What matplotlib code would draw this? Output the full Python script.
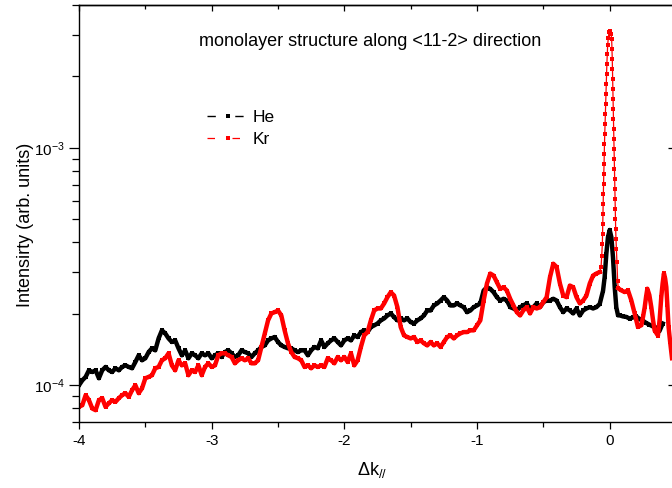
import numpy as np
import matplotlib.pyplot as plt
from matplotlib.lines import Line2D
from matplotlib.ticker import LogLocator, NullFormatter, MultipleLocator

plt.rcParams["font.family"] = ["Liberation Sans", "DejaVu Sans"]
plt.rcParams["axes.unicode_minus"] = False
plt.rcParams["mathtext.default"] = "regular"

# intensity in units of 1e-4, read every 0.025 in dk starting at -4
k_step = 0.025
he_left = [
    1.000, 1.049, 1.084, 1.156, 1.137, 1.156, 1.070, 1.156, 1.194, 1.156,
    1.137, 1.179, 1.156, 1.194, 1.213, 1.194, 1.179, 1.253, 1.337, 1.274,
    1.299, 1.380, 1.431, 1.403, 1.575, 1.703, 1.654, 1.575, 1.521, 1.545,
    1.431, 1.337, 1.403, 1.299, 1.363, 1.337, 1.299, 1.363, 1.337, 1.363,
    1.299, 1.337, 1.363, 1.315,
    1.380, 1.403, 1.363, 1.315, 1.337, 1.403, 1.380, 1.363, 1.315, 1.363,
    1.403, 1.449, 1.472, 1.545, 1.575, 1.596, 1.521, 1.472, 1.449, 1.431,
    1.431, 1.403, 1.380, 1.403, 1.403, 1.337, 1.403, 1.449, 1.431, 1.545,
    1.449, 1.502, 1.545, 1.575, 1.521, 1.472, 1.545, 1.575, 1.545, 1.622,
    1.596, 1.675, 1.703, 1.675, 1.758,
    1.787, 1.820, 1.876, 1.912, 1.968, 2.007, 1.936, 1.876, 1.912, 1.876,
    1.912, 1.845, 1.820, 1.876, 1.912, 1.968, 2.065, 2.065, 2.168, 2.211,
    2.275, 2.350, 2.275, 2.168, 2.168, 2.211, 2.168, 2.133, 2.032, 2.065,
    2.133, 2.168, 2.211, 2.506, 2.588, 2.547, 2.466, 2.350, 2.275, 2.313,
    2.275, 2.133, 2.106, 2.065, 2.133,
    2.170, 2.211, 2.106, 2.133, 2.211, 2.133, 2.239, 2.275, 2.275, 2.313,
    2.275, 2.133, 2.032, 2.106, 2.065, 2.007, 2.106, 1.968, 2.065, 2.106,
    2.133, 2.106, 2.133, 2.200,
]
kr_left = [
    0.811, 0.824, 0.908, 0.865, 0.798, 0.785, 0.865, 0.882, 0.811, 0.840,
    0.865, 0.851, 0.882, 0.908, 0.926, 0.893, 0.953, 1.000, 0.926, 0.971,
    1.070, 1.084, 1.102, 1.179, 1.194, 1.274, 1.299, 1.363, 1.213, 1.156,
    1.274, 1.213, 1.237, 1.102, 1.156, 1.137, 1.213, 1.102, 1.194, 1.237,
    1.194, 1.213, 1.337, 1.363,
    1.363, 1.337, 1.315, 1.237, 1.274, 1.299, 1.274, 1.299, 1.237, 1.237,
    1.274, 1.449, 1.654, 1.876, 2.007, 2.032, 2.065, 1.968, 1.703, 1.502,
    1.380, 1.315, 1.299, 1.274, 1.194, 1.213, 1.179, 1.213, 1.194, 1.213,
    1.194, 1.299, 1.274, 1.237, 1.315, 1.274, 1.315, 1.253, 1.363, 1.213,
    1.274, 1.449, 1.622, 1.675, 1.876,
    2.065, 2.106, 2.106, 2.211, 2.350, 2.466, 2.388, 2.133, 1.758, 1.622,
    1.596, 1.575, 1.596, 1.521, 1.545, 1.502, 1.472, 1.521, 1.472, 1.502,
    1.449, 1.521, 1.596, 1.622, 1.575, 1.622, 1.654, 1.675, 1.675, 1.703,
    1.703, 1.787, 1.876, 2.275, 2.683, 2.955, 2.898, 2.716, 2.547, 2.588,
    2.506, 2.313, 2.168, 2.032, 1.968,
    2.070, 2.133, 2.007, 2.133, 2.106, 2.133, 2.239, 2.350, 2.851, 3.250,
    3.150, 2.683, 2.388, 2.350, 2.630, 2.588, 2.350, 2.211, 2.275, 2.388,
    2.683, 2.898, 2.955, 3.000,
]

# He: specular peak and the part right of it
he_tail_k = [-0.05, -0.038, -0.025, -0.013, 0.0, 0.013, 0.025, 0.038, 0.05, 0.063,
             0.075, 0.1, 0.125, 0.15, 0.175, 0.2, 0.225, 0.25, 0.275, 0.3,
             0.325, 0.35, 0.375, 0.4]
he_tail_i = [2.50, 2.85, 3.58, 4.20, 4.51, 4.20, 3.46, 2.59, 2.13, 1.97,
             1.97, 1.95, 1.94, 1.91, 1.93, 1.95, 1.90, 1.87, 1.83, 1.80,
             1.77, 1.75, 1.69, 1.82]

# Kr: specular peak
kr_peak_k = [-0.065, -0.06, -0.055, -0.0535, -0.052, -0.0505, -0.049, -0.0475,
             -0.046, -0.0444, -0.0422, -0.0407, -0.0392, -0.037, -0.0347, -0.0324,
             -0.0301, -0.0279, -0.0256, -0.0233, -0.0211, -0.0181, -0.0151, -0.0105,
             -0.0053, 0.0, 0.0053, 0.0105, 0.0151, 0.0173, 0.0196, 0.0211,
             0.0226, 0.0241, 0.0256, 0.0271, 0.0286, 0.0301, 0.0316, 0.0331,
             0.0347, 0.0362, 0.0377, 0.0392, 0.0407, 0.0422, 0.0437, 0.0452,
             0.0475, 0.0505, 0.055, 0.06]
kr_peak_i = [3.14, 3.50, 3.95, 4.35, 4.79, 5.28, 5.82, 6.41,
             7.06, 7.78, 8.57, 9.44, 10.39, 11.45, 12.61, 13.90,
             15.30, 16.86, 18.57, 20.46, 22.54, 24.83, 27.09, 29.00,
             30.72, 31.23, 31.02, 30.13, 28.71, 26.06, 23.65, 21.47,
             19.49, 17.69, 16.06, 14.58, 13.24, 12.02, 10.91, 9.90,
             8.99, 8.16, 7.41, 6.73, 6.11, 5.54, 5.03, 4.57,
             4.15, 3.76, 3.29, 2.75]

# Kr: right of the peak
kr_right_k = [0.065, 0.088, 0.113, 0.138, 0.163, 0.188, 0.213, 0.239, 0.252, 0.264,
              0.274, 0.284, 0.299, 0.314, 0.327, 0.339, 0.364, 0.377, 0.389, 0.399,
              0.409, 0.418, 0.427, 0.435, 0.444, 0.456, 0.47]
kr_right_i = [2.56, 2.51, 2.47, 2.51, 2.28, 2.01, 1.76, 1.79, 1.95, 2.13,
              2.35, 2.55, 2.40, 2.13, 1.88, 1.70, 1.62, 1.90, 2.35, 2.68,
              2.96, 2.82, 2.59, 2.17, 1.76, 1.52, 1.30]

unit = 1e-4
k_left = -4 + k_step * np.arange(len(he_left))

fig = plt.figure(figsize=(6.72, 4.88), dpi=100)
ax = fig.add_axes([79 / 672, 66 / 488, 597 / 672, 417 / 488])

thick = dict(lw=3.2, marker="s", ms=3.0, mew=0, solid_joinstyle="round")

# He
he_k = np.concatenate([k_left, he_tail_k])
he_i = np.concatenate([he_left, he_tail_i]) * unit
ax.plot(he_k, he_i, color="black", **thick)

# Kr
ax.plot(k_left, np.array(kr_left) * unit, color="red", **thick)
pk = [k_left[-1]] + kr_peak_k + [kr_right_k[0]]
pi = [kr_left[-1]] + kr_peak_i + [kr_right_i[0]]
ax.plot(pk, np.array(pi) * unit, color="red", lw=0.9, marker="s", ms=2.6, mew=0)
ax.plot(kr_right_k, np.array(kr_right_i) * unit, color="red", **thick)

ax.set_yscale("log")
ax.set_xlim(-4, 0.5)
ax.set_ylim(7e-5, 4e-3)

for s in ax.spines.values():
    s.set_linewidth(1.0)

ax.set_xticks([-4, -3, -2, -1, 0])
ax.xaxis.set_minor_locator(MultipleLocator(0.5))
ax.yaxis.set_major_locator(LogLocator(base=10))
ax.yaxis.set_minor_locator(LogLocator(base=10, subs=np.arange(2, 10)))
ax.yaxis.set_minor_formatter(NullFormatter())

ax.tick_params(axis="x", which="major", direction="out", length=4.8, width=0.9,
               labelsize=11, pad=4, top=False)
ax.tick_params(axis="x", which="minor", direction="out", length=3.6, width=0.9, top=False)
ax.tick_params(axis="y", which="major", direction="out", length=7, width=0.9,
               labelsize=11, pad=3, right=False)
ax.tick_params(axis="y", which="minor", direction="out", length=4.8, width=0.9, right=False)

# top and right ticks point inwards
top = ax.secondary_xaxis("top")
top.set_xticks([-4, -3, -2, -1, 0])
top.xaxis.set_minor_locator(MultipleLocator(0.5))
top.tick_params(which="major", direction="in", length=4.3, width=0.9, labeltop=False)
top.tick_params(which="minor", direction="in", length=3, width=0.9)
top.spines["top"].set_linewidth(1.0)

right = ax.secondary_yaxis("right")
right.yaxis.set_major_locator(LogLocator(base=10))
right.tick_params(which="major", direction="in", length=5.8, width=0.9, labelright=False)
right.tick_params(which="minor", length=0)
right.spines["right"].set_linewidth(1.0)

ax.set_ylabel("Intensirty (arb. units)", fontsize=13)
ax.yaxis.set_label_coords(-0.0754, 0.472)
ax.set_xlabel(r"$\Delta k_{//}$", fontsize=13)
ax.xaxis.set_label_coords(0.491, -0.092)

fig.text(370 / 672, 1 - 41 / 488, "monolayer structure along <11-2> direction",
         ha="center", va="center", fontsize=13)

he_h = Line2D([], [], color="black", lw=1, dashes=(6, 14), marker="s", ms=2.6, mew=0)
kr_h = Line2D([], [], color="red", lw=0.9, dashes=(6, 14), marker="s", ms=2.6, mew=0)
ax.legend([he_h, kr_h], ["He", "Kr"], loc="upper left",
          bbox_to_anchor=(207 / 672, 1 - 110 / 488), bbox_transform=fig.transFigure,
          frameon=False, fontsize=12.5, handlelength=2.4, handletextpad=0.25,
          borderpad=0, borderaxespad=0, labelspacing=0.38)

fig.savefig("out.png", dpi=100)
